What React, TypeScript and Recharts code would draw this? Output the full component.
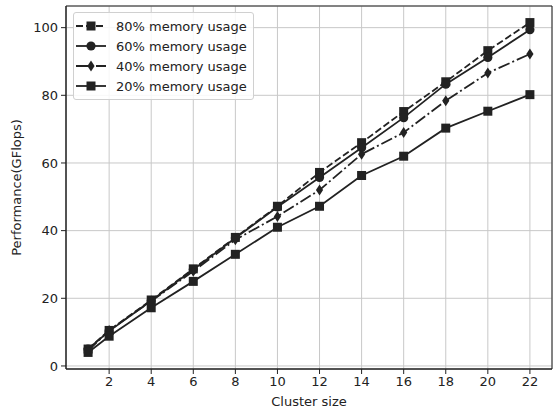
import { LineChart, Line, XAxis, YAxis, CartesianGrid, Legend, ReferenceArea } from 'recharts';

const clusterSizes = [1, 2, 4, 6, 8, 10, 12, 14, 16, 18, 20, 22];
const mem80 = [5, 10.5, 19.5, 28.7, 38, 47.2, 57.2, 66, 75.2, 84, 93.2, 101.5];
const mem60 = [5, 10.3, 19.3, 28.5, 37.8, 47, 55.7, 64.5, 73.4, 83.3, 91.2, 99.4];
const mem40 = [4.5, 10.5, 19.2, 28, 37.3, 44.2, 52, 62.6, 69, 78.4, 86.6, 92.2];
const mem20 = [4, 8.8, 17.2, 25, 33, 41, 47.2, 56.3, 62, 70.3, 75.3, 80.2];

const xTicks = [2, 4, 6, 8, 10, 12, 14, 16, 18, 20, 22];
const yTicks = [0, 20, 40, 60, 80, 100];

const INK = '#222';
const FONT = '"DejaVu Sans", sans-serif';

type Shape = 'square' | 'circle' | 'diamond';

const series: { key: string; name: string; shape: Shape; dash?: string }[] = [
  { key: 'm80', name: '80% memory usage', shape: 'square', dash: '7 3' },
  { key: 'm60', name: '60% memory usage', shape: 'circle' },
  { key: 'm40', name: '40% memory usage', shape: 'diamond', dash: '12 3 2 3' },
  { key: 'm20', name: '20% memory usage', shape: 'square' },
];

const data = clusterSizes.map((x, i) => ({
  x,
  m80: mem80[i],
  m60: mem60[i],
  m40: mem40[i],
  m20: mem20[i],
}));

function Marker({ cx, cy, shape }: { cx: number; cy: number; shape: Shape }) {
  if (shape === 'circle') return <circle cx={cx} cy={cy} r={4.6} fill={INK} />;
  if (shape === 'diamond')
    return <polygon points={`${cx},${cy - 5.5} ${cx + 3.6},${cy} ${cx},${cy + 5.5} ${cx - 3.6},${cy}`} fill={INK} />;
  return <rect x={cx - 4.5} y={cy - 4.5} width={9} height={9} fill={INK} />;
}

function LegendBox() {
  return (
    <div
      style={{
        border: '1px solid #d0d0d0',
        borderRadius: 3,
        background: 'rgba(255,255,255,0.85)',
        padding: '3px 6px 3px 0px',
        fontFamily: FONT,
        fontSize: 13,
        color: INK,
      }}
    >
      {series.map((s) => (
        <div key={s.key} style={{ display: 'flex', alignItems: 'center', height: 20 }}>
          <svg width={34} height={14} style={{ marginRight: 8 }}>
            <line x1={2} y1={7} x2={32} y2={7} stroke={INK} strokeWidth={1.8} strokeDasharray={s.dash} />
            <Marker cx={17} cy={7} shape={s.shape} />
          </svg>
          <span>{s.name}</span>
        </div>
      ))}
    </div>
  );
}

export default function App() {
  return (
    <div style={{ position: 'absolute', left: 0, top: 0, width: 554, height: 412, background: '#fff' }}>
      <LineChart width={554} height={412} data={data} margin={{ top: 6, right: 2, bottom: 0, left: 0 }}>
        <CartesianGrid stroke="#c8c8c8" strokeWidth={1} />
        <XAxis
          dataKey="x"
          type="number"
          domain={[-0.05, 23.05]}
          ticks={xTicks}
          allowDataOverflow
          height={43}
          tickSize={5}
          tickMargin={3}
          stroke={INK}
          tick={{ fill: INK, fontSize: 13, fontFamily: FONT }}
          label={{ value: 'Cluster size', position: 'insideBottom', offset: 6, fill: INK, fontSize: 13, fontFamily: FONT }}
        />
        <YAxis
          type="number"
          domain={[-0.9, 106.4]}
          ticks={yTicks}
          allowDataOverflow
          width={66}
          tickSize={5}
          tickMargin={3}
          stroke={INK}
          tick={{ fill: INK, fontSize: 13, fontFamily: FONT }}
          label={{
            value: 'Performance(GFlops)',
            angle: -90,
            position: 'insideLeft',
            offset: 16,
            style: { textAnchor: 'middle' },
            fill: INK,
            fontSize: 13,
            fontFamily: FONT,
          }}
        />
        <ReferenceArea x1={-0.05} x2={23.05} y1={-0.9} y2={106.4} fill="none" stroke={INK} strokeWidth={1} />
        {series.map((s) => (
          <Line
            key={s.key}
            dataKey={s.key}
            name={s.name}
            type="linear"
            stroke={INK}
            strokeWidth={1.8}
            strokeDasharray={s.dash}
            isAnimationActive={false}
            dot={(p: any) => <Marker key={`${s.key}-${p.index}`} cx={p.cx} cy={p.cy} shape={s.shape} />}
            activeDot={false}
          />
        ))}
        <Legend
          layout="vertical"
          align="center"
          verticalAlign="middle"
          wrapperStyle={{ left: 73, top: 12, width: 'auto' }}
          content={() => <LegendBox />}
        />
      </LineChart>
    </div>
  );
}
